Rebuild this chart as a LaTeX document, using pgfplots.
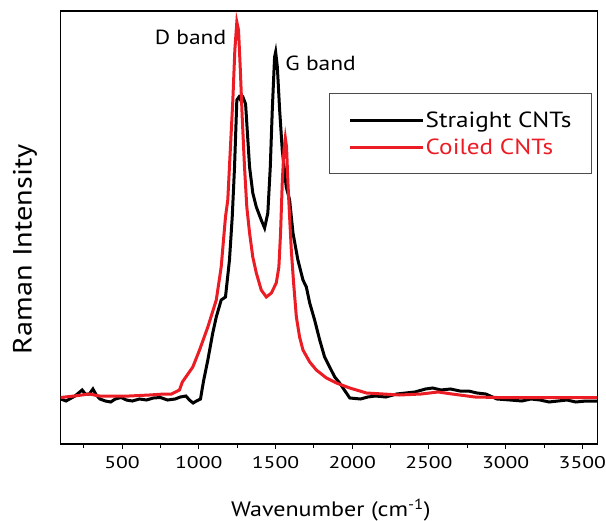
\documentclass[border=0pt]{standalone}
\usepackage{fontspec}
\setmainfont[FakeStretch=1.15]{PT Sans}
\newfontfamily\tickfont[FakeStretch=1.28]{PT Sans}
\usepackage{pgfplots}
\pgfplotsset{compat=1.18}
\definecolor{cred}{RGB}{236,28,36}

% straight CNTs (black)
\pgfplotstableread{
w v
100 45
135 43
193 48
240 54
260 50
287 50
310 55
332 49
356 45
391 43
426 42
456 45
495 46.5
528 44
567 43
613 45
659 44
704 46
750 46.5
796 44
846 45
880 47
916 48
939 44
963 41
985 43
1011 45
1031 63
1059 84
1091 111
1114 127
1146 144
1174 147
1200 184
1218 227
1233 277
1248 344
1262 347
1276 343
1290 346
1305 340
1331 277
1352 251
1375 237
1407 224
1429 216
1450 231
1466 277
1479 334
1494 387
1501 392
1512 377
1527 334
1544 294
1570 257
1592 244
1614 211
1646 184
1679 164
1701 157
1723 141
1755 124
1788 104
1820 87
1853 77
1886 67
1918 61
1962 51
1984 46
2055 45
2101 47
2151 48
2219 47
2290 50
2349 51
2408 52
2478 55
2525 56
2578 54
2641 55
2702 53
2758 53
2813 51
2871 50
2943 45
3028 44
3106 43
3165 45
3224 44
3283 42
3341 43
3400 44
3457 42
3524 43
3596 43
}\straight

% coiled CNTs (red)
\pgfplotstableread{
w v
100 46.5
189 48
287 50
352 48
424 48
548 48
678 49
776 50
822 50
874 54
893 62
961 77
1005 94
1059 117
1114 144
1146 177
1174 227
1189 244
1211 311
1222 344
1235 394
1248 422
1259 414
1270 377
1283 327
1298 277
1313 237
1331 211
1352 187
1375 171
1407 154
1440 147
1473 151
1505 161
1522 177
1533 211
1544 261
1555 294
1564 306
1572 297
1581 261
1592 227
1603 194
1618 161
1636 127
1657 107
1679 94
1723 82
1766 74
1832 66
1897 61
1984 56
2093 51
2310 49
2450 50
2560 52
2650 50
2800 47
2943 46.5
3596 46.5
}\coiled

\begin{document}
\begin{tikzpicture}
\begin{axis}[
  scale only axis,
  width=537bp, height=433bp,
  xmin=100, xmax=3600, ymin=0, ymax=433,
  axis line style={line width=1.2bp},
  xtick={500,1000,...,3500},
  minor xtick={250,750,...,3250},
  ytick=\empty,
  xtick pos=bottom,
  tick align=outside,
  major tick length=5bp, minor tick length=4bp,
  every tick/.style={black, line width=1bp},
  /pgf/number format/assume math mode=true,
  /pgf/number format/set thousands separator={},
  xticklabel style={font=\tickfont\fontsize{17}{19}\selectfont, yshift=-4bp},
  xlabel={Wavenumber (cm\textsuperscript{-1})},
  xlabel style={font=\fontsize{21}{24}\selectfont, at={(axis description cs:0.503,-0.168)}, anchor=base},
  ylabel={Raman Intensity},
  ylabel style={font=\fontsize{26.5}{28}\selectfont, at={(axis description cs:-0.0665,0.45)}, anchor=center},
  legend style={at={(rel axis cs:0.5002,0.81)}, anchor=north west, draw=black!70, line width=0.8bp,
    font=\fontsize{22}{23}\selectfont, inner xsep=19bp, inner ysep=16bp, row sep=6bp,
    column sep=0pt, nodes={inner xsep=1bp}},
  legend cell align=left,
  legend image code/.code={%
    \path (-5bp,0bp) -- (0bp,0bp);
    \draw[#1] (0bp,0bp) -- (68bp,0bp);},
]
\addplot[black, line width=3bp] table[x=w, y=v] {\straight};
\addlegendentry{Straight CNTs}
\addplot[cred, line width=3bp] table[x=w, y=v] {\coiled};
\addlegendentry{\textcolor{cred}{Coiled CNTs}}
\node[font=\fontsize{20.5}{22}\selectfont, anchor=base] at (axis cs:946,399) {D band};
\node[font=\fontsize{20.5}{22}\selectfont, anchor=base] at (axis cs:1794,373) {G band};
\end{axis}
\pgfresetboundingbox
\path[use as bounding box] (-60.7bp,-77bp) rectangle (545.3bp,444bp);
\end{tikzpicture}
\end{document}
